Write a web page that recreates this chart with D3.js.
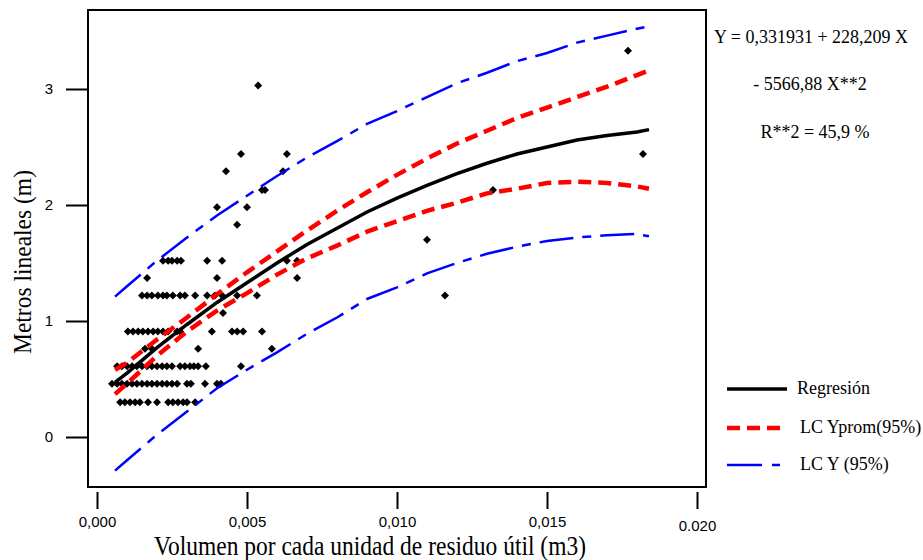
<!DOCTYPE html>
<html lang="es">
<head>
    <meta charset="UTF-8">
    <title>Metros lineales vs volumen por unidad de residuo</title>
    <script src="https://d3js.org/d3.v7.min.js"></script>
    <style>
        body { margin: 0; background: #fff; }
        .tick text { font-family: "Liberation Sans", Arial, sans-serif; font-size: 15px; fill: #000; }
        .tick line { stroke: #000; stroke-width: 2px; }
    </style>
</head>
<body>
    <svg id="chart" width="923" height="560"></svg>

    <script>
        // scatter points (x = volumen m3, y = metros lineales), read row by row
        const volumen = [
            0.00077, 0.00093, 0.0011, 0.00127, 0.00143, 0.0017, 0.002, 0.00237, 0.00253, 0.0027, 0.00287, 0.003, 0.00327,
            0.0005, 0.00067, 0.00083, 0.001, 0.00117, 0.00133, 0.0015, 0.00167, 0.00183, 0.002, 0.00217, 0.00233, 0.0025, 0.00267, 0.003, 0.00313, 0.0036, 0.004, 0.00413,
            0.00067, 0.00083, 0.001, 0.00117, 0.00133, 0.0015, 0.00167, 0.00183, 0.002, 0.00217, 0.00233, 0.0025, 0.00277, 0.00293, 0.0031, 0.00323, 0.00337, 0.00363, 0.0048,
            0.0016, 0.00183, 0.00337, 0.00583,
            0.00103, 0.0012, 0.00137, 0.00153, 0.0017, 0.00187, 0.00203, 0.0022, 0.00237, 0.00267, 0.00277, 0.00383, 0.0045, 0.00467, 0.00487, 0.0055,
            0.0042,
            0.0015, 0.00167, 0.00183, 0.00203, 0.0022, 0.00233, 0.00253, 0.00277, 0.00293, 0.00327, 0.00367, 0.00393, 0.00417, 0.00467, 0.00533, 0.0116,
            0.00167, 0.004, 0.00667,
            0.0022, 0.00237, 0.0025, 0.00267, 0.0028, 0.00367, 0.00417, 0.00633, 0.00667,
            0.011, 0.00467, 0.004, 0.005, 0.0055, 0.0056, 0.0132, 0.0043, 0.0062,
            0.0048, 0.00633, 0.0182, 0.00537, 0.0177
        ];
        const metros = [
            0.30, 0.30, 0.30, 0.30, 0.30, 0.30, 0.30, 0.30, 0.30, 0.30, 0.30, 0.30, 0.30,
            0.46, 0.46, 0.46, 0.46, 0.46, 0.46, 0.46, 0.46, 0.46, 0.46, 0.46, 0.46, 0.46, 0.46, 0.46, 0.46, 0.46, 0.46, 0.46,
            0.61, 0.61, 0.61, 0.61, 0.61, 0.61, 0.61, 0.61, 0.61, 0.61, 0.61, 0.61, 0.61, 0.61, 0.61, 0.61, 0.61, 0.61, 0.61,
            0.76, 0.76, 0.76, 0.76,
            0.91, 0.91, 0.91, 0.91, 0.91, 0.91, 0.91, 0.91, 0.91, 0.91, 0.91, 0.91, 0.91, 0.91, 0.91, 0.91,
            1.07,
            1.22, 1.22, 1.22, 1.22, 1.22, 1.22, 1.22, 1.22, 1.22, 1.22, 1.22, 1.22, 1.22, 1.22, 1.22, 1.22,
            1.37, 1.37, 1.37,
            1.52, 1.52, 1.52, 1.52, 1.52, 1.52, 1.52, 1.52, 1.52,
            1.70, 1.83, 1.98, 1.98, 2.13, 2.13, 2.13, 2.29, 2.29,
            2.44, 2.44, 2.44, 3.03, 3.33
        ];

        // fitted curves
        const curveX    = [0.0006, 0.001, 0.002, 0.003, 0.004, 0.005, 0.006, 0.007, 0.008, 0.009, 0.010, 0.011, 0.012, 0.013, 0.014, 0.015, 0.016, 0.017, 0.018, 0.0184];
        const regresion = [0.47, 0.55, 0.77, 0.97, 1.16, 1.33, 1.50, 1.66, 1.80, 1.94, 2.06, 2.17, 2.27, 2.36, 2.44, 2.50, 2.56, 2.60, 2.63, 2.65];
        const lcPromSup = [0.58, 0.64, 0.84, 1.03, 1.23, 1.42, 1.60, 1.78, 1.95, 2.11, 2.26, 2.40, 2.53, 2.64, 2.75, 2.84, 2.93, 3.02, 3.12, 3.16];
        const lcPromInf = [0.37, 0.46, 0.70, 0.91, 1.09, 1.24, 1.40, 1.54, 1.65, 1.77, 1.86, 1.95, 2.02, 2.10, 2.14, 2.19, 2.20, 2.19, 2.16, 2.14];
        const lcYSup    = [1.21, 1.30, 1.52, 1.72, 1.91, 2.08, 2.25, 2.41, 2.55, 2.70, 2.81, 2.93, 3.05, 3.14, 3.24, 3.31, 3.40, 3.46, 3.52, 3.54];
        const lcYInf    = [-0.29, -0.20, 0.02, 0.22, 0.42, 0.58, 0.73, 0.89, 1.03, 1.19, 1.29, 1.41, 1.50, 1.58, 1.64, 1.69, 1.72, 1.74, 1.75, 1.73];

        const xTicks = [0, 0.005, 0.010, 0.015, 0.020];
        const xTickLabels = ["0,000", "0,005", "0,010", "0,015", "0.020"];
        const yTicks = [0, 1, 2, 3];

        const ecuacion = ["Y = 0,331931 + 228,209 X", "- 5566,88 X**2", "R**2 = 45,9 %"];
        const leyenda = ["Regresión", "LC Yprom(95%)", "LC Y (95%)"];

        const serifFont = "'Liberation Serif', 'Times New Roman', Times, 'DejaVu Serif', serif";
        const plotLeft = 88, plotTop = 10, plotRight = 706, plotBottom = 487;

        const svg = d3.select("#chart");

        const x = d3.scaleLinear().domain([-0.0003, 0.0203]).range([plotLeft, plotRight]);
        const y = d3.scaleLinear().domain([-0.431, 3.681]).range([plotBottom, plotTop]);

        // axes
        const yAxis = svg.append("g")
            .attr("transform", `translate(${plotLeft},0)`)
            .call(d3.axisLeft(y).tickValues(yTicks).tickFormat(d3.format("d")).tickSize(22).tickPadding(13));
        yAxis.select(".domain").remove();

        const xAxis = svg.append("g")
            .attr("transform", `translate(0,${plotBottom + 5})`)
            .call(d3.axisBottom(x).tickValues(xTicks).tickFormat((d, i) => xTickLabels[i]).tickSize(17).tickPadding(7));
        xAxis.select(".domain").remove();
        xAxis.selectAll(".tick text").filter((d, i) => i === 4).attr("dy", "1.0em");

        // plot frame
        svg.append("rect")
            .attr("x", plotLeft).attr("y", plotTop)
            .attr("width", plotRight - plotLeft).attr("height", plotBottom - plotTop)
            .attr("fill", "none").attr("stroke", "#000").attr("stroke-width", 2);

        // scatter
        const diamond = d3.symbol().type(d3.symbolSquare).size(32);
        svg.append("g").selectAll("path")
            .data(volumen.map((v, i) => [v, metros[i]]))
            .join("path")
            .attr("d", diamond)
            .attr("transform", d => `translate(${x(d[0])},${y(d[1])}) rotate(45)`)
            .attr("fill", "#000");

        // curves
        const series = [
            { vals: lcYSup, color: "#0000ff", width: 2.5, dash: "34,9,9,9" },
            { vals: lcYInf, color: "#0000ff", width: 2.5, dash: "34,9,9,9" },
            { vals: lcPromSup, color: "#ff0000", width: 4.5, dash: "13,7" },
            { vals: lcPromInf, color: "#ff0000", width: 4.5, dash: "13,7" },
            { vals: regresion, color: "#000", width: 3.5, dash: null }
        ];
        const line = d3.line().x(d => x(d[0])).y(d => y(d[1]));
        series.forEach(s => {
            svg.append("path")
                .datum(curveX.map((v, i) => [v, s.vals[i]]))
                .attr("d", line)
                .attr("fill", "none")
                .attr("stroke", s.color)
                .attr("stroke-width", s.width)
                .attr("stroke-dasharray", s.dash);
        });

        // axis titles (the original lettering is a little taller than wide)
        svg.append("text")
            .attr("font-family", serifFont)
            .attr("transform", "translate(370,555) scale(1,1.12)")
            .attr("text-anchor", "middle").attr("font-size", 23.5)
            .text("Volumen por cada unidad de residuo útil (m3)");
        svg.append("text")
            .attr("font-family", serifFont)
            .attr("transform", "translate(31,262) rotate(-90) scale(1,1.1)")
            .attr("text-anchor", "middle").attr("font-size", 23.5)
            .text("Metros lineales (m)");

        // equation
        const eqX = [811, 810, 815];
        const eqY = [43, 90, 138];
        ecuacion.forEach((t, i) => {
            svg.append("text")
                .attr("font-family", serifFont)
                .attr("x", eqX[i]).attr("y", eqY[i])
                .attr("text-anchor", "middle").attr("font-size", 18)
                .text(t);
        });

        // legend
        const legStyle = [series[4], series[2], series[0]];
        const legY = [389, 428, 465];
        leyenda.forEach((t, i) => {
            svg.append("line")
                .attr("x1", 727).attr("x2", i === 0 ? 787 : 782)
                .attr("y1", legY[i]).attr("y2", legY[i])
                .attr("stroke", legStyle[i].color)
                .attr("stroke-width", legStyle[i].width)
                .attr("stroke-dasharray", i === 2 ? "35,10,8,20" : legStyle[i].dash);
            svg.append("text")
                .attr("font-family", serifFont)
                .attr("x", i === 0 ? 797 : 800).attr("y", legY[i] + 5)
                .attr("font-size", 18)
                .text(t);
        });
    </script>
</body>
</html>
